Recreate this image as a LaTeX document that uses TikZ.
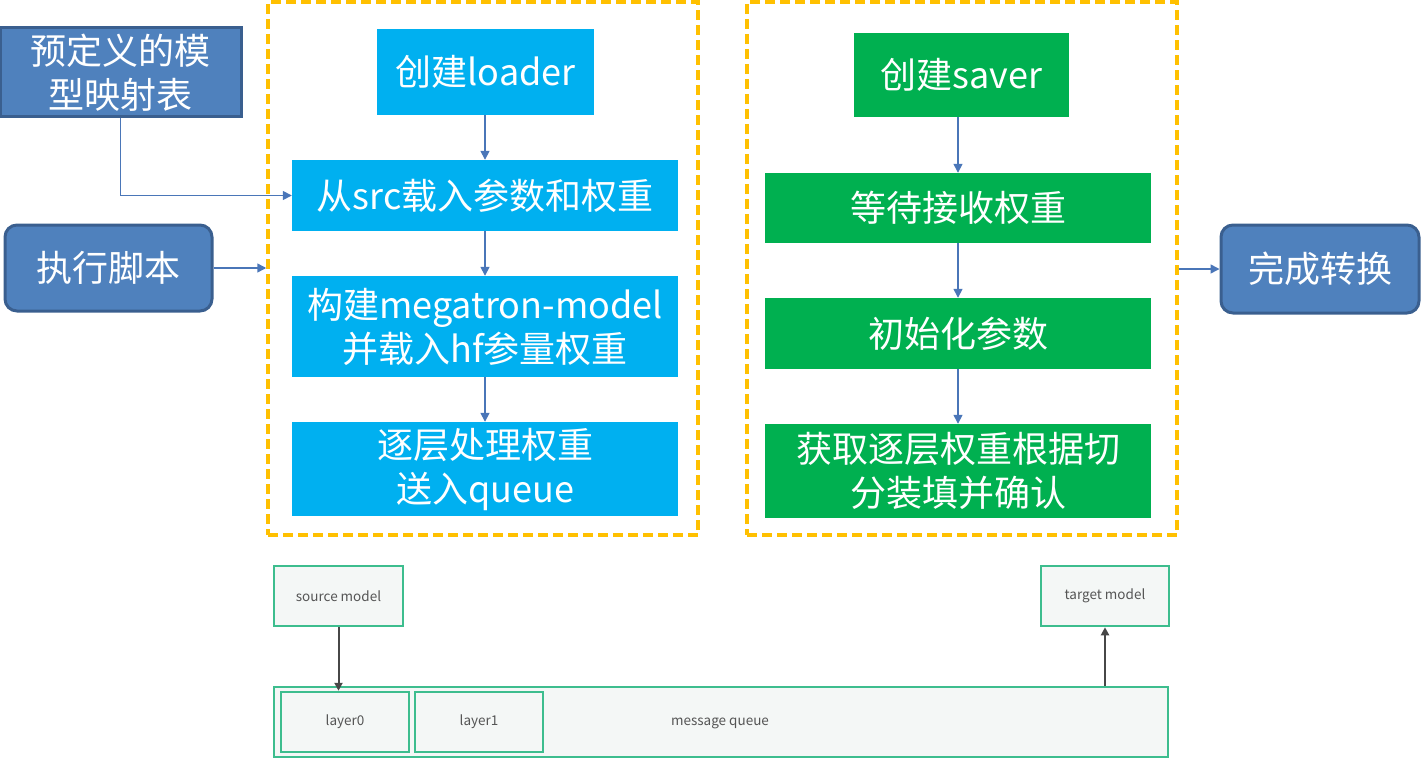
\documentclass[tikz,border=0pt]{standalone}
\usepackage{fontspec}
\setmainfont{Noto Sans CJK SC}
\usetikzlibrary{arrows.meta}
\definecolor{mapblue}{HTML}{4F81BD}
\definecolor{mapedge}{HTML}{3A5F8F}
\definecolor{cyanbox}{HTML}{00B0F0}
\definecolor{greenbox}{HTML}{00B050}
\definecolor{dashorange}{HTML}{FFC000}
\definecolor{arrowblue}{HTML}{4A76B8}
\definecolor{mintedge}{HTML}{3DBD8E}
\definecolor{mintfill}{HTML}{F4F7F6}
\definecolor{labgray}{HTML}{555555}
\begin{document}
\begin{tikzpicture}[x=1pt,y=-1pt,
  bigtext/.style={text=white,align=center,inner sep=0pt,font=\fontsize{36}{44}\selectfont},
  mapbox/.style={bigtext,fill=mapblue,draw=mapedge,line width=3pt},
  cyanstep/.style={bigtext,fill=cyanbox},
  greenstep/.style={bigtext,fill=greenbox},
  dashframe/.style={draw=dashorange,line width=3.5pt,dash pattern=on 10pt off 5pt,inner sep=0pt},
  flow/.style={draw=arrowblue,line width=1.5pt,-{Triangle[length=9pt,width=9pt]}},
  mint/.style={draw=mintedge,line width=2.5pt,fill=mintfill,inner sep=0pt,text=labgray,font=\fontsize{13.5}{16}\selectfont},
  darkflow/.style={draw=black!72,line width=2pt,-{Triangle[length=8pt,width=8pt]}}
]
\useasboundingbox (0,0) rectangle (1421,770);
% dashed frames
\node[dashframe,minimum width=430pt,minimum height=533pt] (ldash) at (483,268.5) {};
\node[dashframe,minimum width=430pt,minimum height=533pt] (rdash) at (962,268.5) {};
% left blue boxes
\node[mapbox,minimum width=241pt,minimum height=89pt] (map) at (120.5,72.5) {预定义的模\\型映射表};
\node[mapbox,rounded corners=12pt,minimum width=207pt,minimum height=86pt] (exec) at (108.5,268) {执行脚本};
\node[mapbox,rounded corners=12pt,minimum width=198pt,minimum height=88pt] (done) at (1320,269) {完成转换};
% loader column
\node[cyanstep,minimum width=217pt,minimum height=86pt] (loader) at (485.5,72) {创建loader};
\node[cyanstep,minimum width=386pt,minimum height=71pt] (src) at (485,195.5) {从src载入参数和权重};
\node[cyanstep,minimum width=386pt,minimum height=101pt] (build) at (485,326.5) {构建megatron-model\\并载入hf参量权重};
\node[cyanstep,minimum width=386pt,minimum height=94pt] (layer) at (485,469) {逐层处理权重\\送入queue};
% saver column
\node[greenstep,minimum width=215pt,minimum height=84pt] (saver) at (961.5,75) {创建saver};
\node[greenstep,minimum width=386pt,minimum height=70pt] (wait) at (958,208) {等待接收权重};
\node[greenstep,minimum width=386pt,minimum height=71pt] (init) at (958,333.5) {初始化参数};
\node[greenstep,minimum width=386pt,minimum height=94pt] (fetch) at (958,471) {获取逐层权重根据切\\分装填并确认};
% arrows
\draw[flow] (loader.south -| src.north) -- (src.north);
\draw[flow] (src) -- (build);
\draw[flow] (build) -- (layer);
\draw[flow] (saver.south -| wait.north) -- (wait.north);
\draw[flow] (wait) -- (init);
\draw[flow] (init) -- (fetch);
\draw[flow] (map.south) |- (src.west);
\draw[flow] (exec.east) -- (exec.east -| ldash.west);
\draw[flow] (rdash.east |- done.west) -- (done.west);
% bottom
\node[mint,minimum width=129pt,minimum height=60pt] (smodel) at (338.5,596) {source model};
\node[mint,minimum width=128pt,minimum height=60pt] (tmodel) at (1105,596) {target model};
\node[mint,minimum width=894pt,minimum height=70pt] (queue) at (721,722) {};
\node[mint,minimum width=128pt,minimum height=60pt] (l0) at (345,722) {layer0};
\node[mint,minimum width=128pt,minimum height=60pt] (l1) at (479,722) {layer1};
\node[text=labgray,font=\fontsize{13.5}{16}\selectfont,inner sep=0pt] (mq) at (720,723) {message queue};
\draw[darkflow] (smodel.south) -- (smodel.south |- l0.north);
\draw[darkflow] (tmodel.south |- queue.north) -- (tmodel.south);
\end{tikzpicture}
\end{document}
